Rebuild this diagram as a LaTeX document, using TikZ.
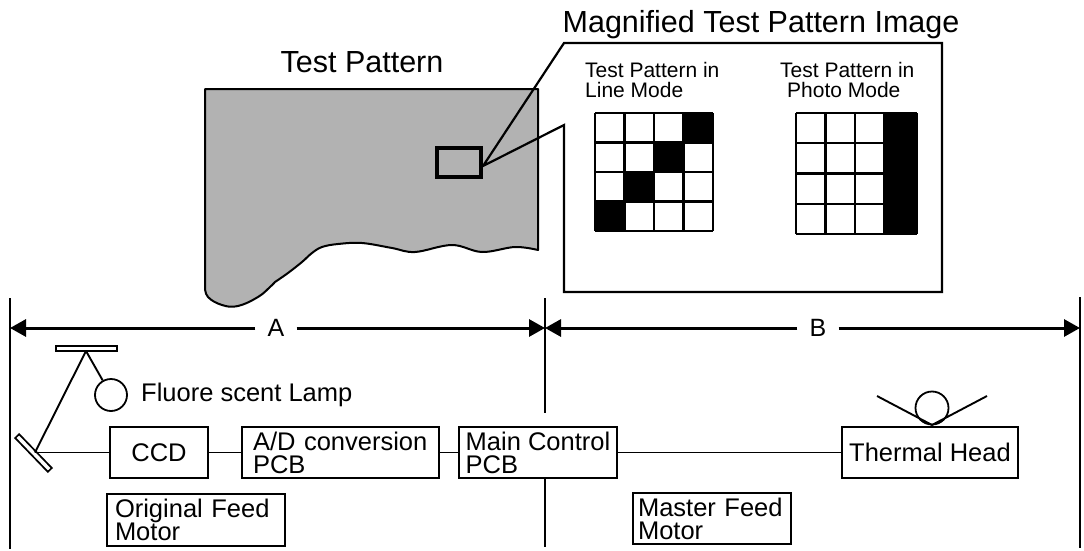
\documentclass[tikz,border=0pt]{standalone}
\usepackage{fontspec}
\setmainfont{Liberation Sans}
\usetikzlibrary{arrows.meta}
\definecolor{paper}{gray}{0.70}
\begin{document}
\begin{tikzpicture}[x=1pt,y=-1pt,
  lbl/.style={font=\fontsize{25.5}{23}\selectfont, inner sep=0},
  title/.style={font=\fontsize{30.5}{32}\selectfont, inner sep=0},
  small/.style={font=\fontsize{21}{20}\selectfont, inner sep=0, align=left, anchor=north west},
  blk/.style={draw, line width=2, lbl, minimum height=51},
  wire/.style={line width=1.9},
  wall/.style={line width=2},
  dim/.style={line width=3, -{Triangle[length=16pt,width=17pt]}},
  dimlbl/.style={font=\fontsize{25}{25}\selectfont, inner xsep=12, inner ysep=0},
  gl/.style={line width=2.2},
  bar/.style={draw, line width=1.7, fill=white, inner sep=0, minimum height=5.5}]
\useasboundingbox (0,0) rectangle (1084,551);

% ---- test pattern sheet with torn lower edge ----
\filldraw[fill=paper, line width=2, line join=round]
  (205,89) -- (538,89) -- (538,250)
  -- plot[smooth, tension=0.6] coordinates {(538,250) (515,247) (482,252) (452,245)
     (415,252) (392,248) (362,243) (338,244) (322,247) (312,253) (302,262) (288,273) (275,282)}
  -- plot[smooth, tension=0.7] coordinates {(275,282) (270,287) (258,297) (238,306) (222,305) (208,297) (205,287)}
  -- cycle;
\node[title, anchor=base] (tptitle) at (362,73) {Test Pattern};
\node[draw, line width=3.5, minimum width=44, minimum height=29, inner sep=0] (zoomrect) at (459,162.5) {};

% ---- magnified view callout ----
\coordinate (tip) at (483,166);
\draw[line width=2.2, line join=miter] (564,125) -- (tip) -- (564,43) -- (942,43) -- (942,292) -- (564,292) -- cycle;
\node[title, anchor=base] (magtitle) at (761,33) {Magnified Test Pattern Image};

\node[small] (linelbl) at (585,62) {Test Pattern in\\Line Mode};
\node[small] (photolbl) at (780,62) {Test Pattern in\\\hspace*{7pt}Photo Mode};

% line mode grid: diagonal of black cells
\foreach \c/\r in {3/0,2/1,1/2,0/3}
  \fill (595+\c*29.5,113+\r*29.5) rectangle ++(29.5,29.5);
\foreach \i in {0,...,4} {
  \draw[gl] (595+\i*29.5,113) -- (595+\i*29.5,231);
  \draw[gl] (595,113+\i*29.5) -- (713,113+\i*29.5);
}
% photo mode grid: solid black right column
\fill (884.5,113) rectangle (917,234);
\foreach \x in {796,825.5,855,884.5,917}
  \draw[gl] (\x,113) -- (\x,234);
\foreach \y in {113,143.25,173.5,203.75,234}
  \draw[gl] (796,\y) -- (917,\y);

% ---- section boundaries and dimensions ----
\coordinate (Lt) at (10,298);  \coordinate (Lb) at (10,549);
\coordinate (Mt) at (545,298); \coordinate (Mg) at (545,413); \coordinate (Mb) at (545,547);
\coordinate (Rt) at (1080,297); \coordinate (Rb) at (1080,548);
\draw[wall] (Lt) -- (Lb);
\draw[wall] (Rt) -- (Rb);
\draw[wall] (Mt) -- (Mg);

\node[dimlbl] (A) at (276,328) {A};
\node[dimlbl] (B) at (818,328) {B};
\draw[dim] (A) -- (A -| Lt);
\draw[dim] (A) -- (A -| Mt);
\draw[dim] (B) -- (B -| Mt);
\draw[dim] (B) -- (B -| Rt);

% ---- scanner optics ----
\node[bar, minimum width=61] (topbar) at (86.5,348.5) {};
\node[bar, minimum width=47, rotate=-46] (mirror) at (33.5,453) {};
\node[draw, circle, line width=1.8, minimum size=32, inner sep=0] (lamp) at (111,395) {};
\node[lbl, anchor=west] (lamplbl) at (141,395) {Fluore scent Lamp};
\coordinate (barpt) at (86,351);
\coordinate (mirpt) at (35,452.5);
\draw[wire] (mirpt) -- (barpt);
\draw[wire] (barpt) -- (lamp);

% ---- signal chain ----
\node[blk, minimum width=98] (ccd) at (159,452.5) {CCD};
\node[blk, minimum width=197, text width=175, align=left] (adc) at (340.5,452.5) {A/D conversion\\PCB};
\node[blk, minimum width=158, align=left] (main) at (538,452.5) {Main Control\\PCB};
\node[blk, minimum width=176] (thermal) at (930,452.5) {Thermal Head};
\draw[wire] (mirpt) -- (ccd);
\draw[wire] (ccd) -- (adc);
\draw[wire] (adc) -- (main);
\draw[wire] (main) -- (thermal);
\draw[wall] (main.south -| Mb) -- (Mb);

% platen roller on the thermal head
\node[draw, circle, line width=1.8, minimum size=33, inner sep=0] (roller) at (932,408) {};
\coordinate (vl) at (877,396);
\coordinate (vb) at (932,425);
\coordinate (vr) at (987,396);
\draw[wire] (vl) -- (vb) -- (vr);

% ---- motors ----
\node[blk, minimum width=178, minimum height=52, text width=162, align=left] (ofm) at (196,520) {Original Feed\\Motor};
\node[blk, minimum width=158, text width=148, align=left] (mfm) at (712,518.5) {Master Feed\\Motor};
\end{tikzpicture}
\end{document}
